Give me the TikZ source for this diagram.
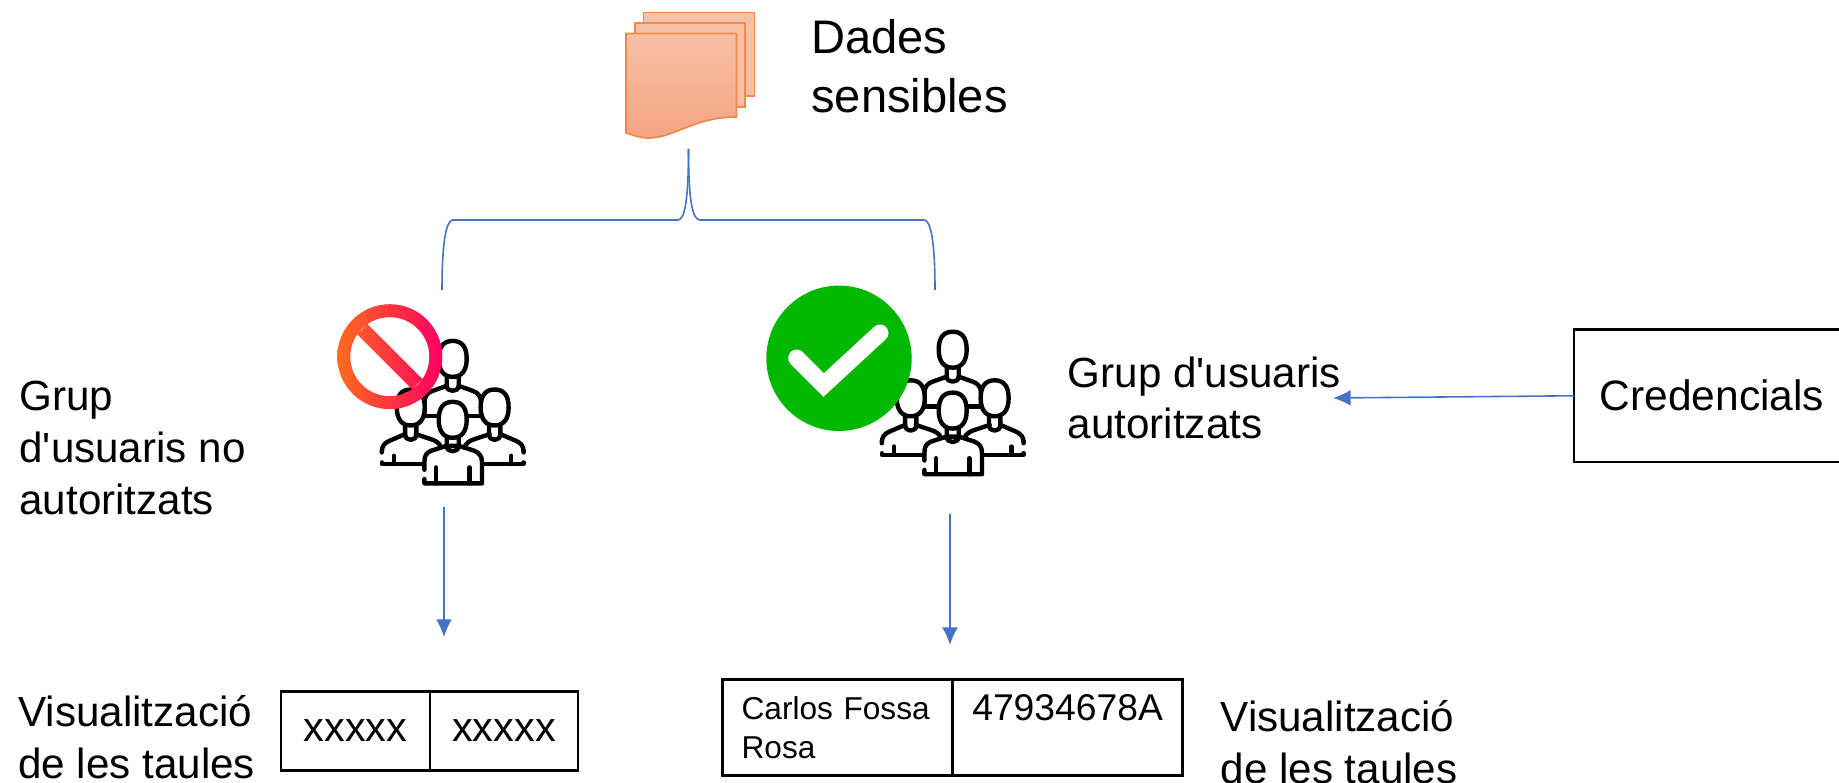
\documentclass[tikz,border=0pt]{standalone}
\usepackage{fontspec}
\setmainfont{Liberation Sans}[Ligatures=TeXOff]
\definecolor{linkblue}{HTML}{4472C4}
\definecolor{docline}{HTML}{F08A4B}
\definecolor{doctop}{HTML}{F7BFA5}
\definecolor{docbottom}{HTML}{F4A582}
\definecolor{okgreen}{HTML}{00B800}
\definecolor{noleft}{HTML}{FF6B1E}
\definecolor{noright}{HTML}{FF0062}
\newcommand{\personhead}[2]{
  \filldraw (#1-42,#2) .. controls (#1-42,#2-36) and (#1-28,#2-54) .. (#1,#2-54)
    .. controls (#1+28,#2-54) and (#1+42,#2-36) .. (#1+42,#2)
    .. controls (#1+42,#2+36) and (#1+26,#2+54) .. (#1,#2+54)
    .. controls (#1-26,#2+54) and (#1-42,#2+36) .. (#1-42,#2) -- cycle;
}
\tikzset{
  link/.style={draw=linkblue, line width=0.45pt},
  linkarrow/.style={link, -{Latex[length=5pt,width=4.5pt]}},
  sheet/.style={draw=docline, line width=0.5pt, fill=doctop},
  bigtext/.style={align=left, anchor=west, inner sep=0pt, font=\fontsize{13.4}{16.7}\selectfont},
  label/.style={align=left, anchor=west, inner sep=0pt, font=\fontsize{12}{14.7}\selectfont},
  cell/.style={draw, line width=0.8pt, inner sep=0pt, outer sep=0pt, font=\fontsize{11.8}{14}\selectfont},
  usergroup/.pic={
    \begin{scope}[x=0.0333mm, y=-0.0333mm, line width=1.25pt, line cap=round, line join=round, fill=white]
      % persona de dalt
      \draw (-85,10) -- (-85,-30) .. controls (-85,-50) and (-75,-60) .. (-60,-65) -- (-18,-80);
      \draw (85,10) -- (85,-30) .. controls (85,-50) and (75,-60) .. (60,-65) -- (18,-80);
      \draw (-85,10) -- (-45,10) (85,10) -- (45,10);
      \draw (-18,-105) -- (-18,-80) .. controls (-18,-60) and (18,-60) .. (18,-80) -- (18,-105);
      \personhead{0}{-161}
      % persones dels costats
      \foreach \side in {1,-1} {
        \begin{scope}[xscale=\side]
          \draw (-213,112) -- (-213,120) .. controls (-213,100) and (-205,92) .. (-190,85) -- (-143,65);
          \draw (-111,65) -- (-60,82) .. controls (-50,86) and (-42,92) .. (-38,98);
          \draw (-213,150) -- (-213,155) -- (-88,155) (-176,130) -- (-176,155);
          \draw (-143,42) -- (-143,65) .. controls (-143,88) and (-109,88) .. (-109,65) -- (-109,42);
          \personhead{-126}{-15}
        \end{scope}
      }
      % persona del davant
      \filldraw (-85,172) -- (-85,150) .. controls (-85,130) and (-80,122) .. (-65,115) -- (-18,100)
        -- (18,100) -- (65,115) .. controls (80,122) and (88,130) .. (88,150) -- (88,213) -- (-85,213) -- (-85,200);
      \draw (-50,165) -- (-50,213) (50,165) -- (50,213);
      \draw (-18,78) -- (-18,100) .. controls (-18,122) and (18,122) .. (18,100) -- (18,78);
      \personhead{0}{22}
    \end{scope}
  }
}
\usetikzlibrary{arrows.meta}
\begin{document}
\begin{tikzpicture}
  \useasboundingbox (0,0) rectangle (18.39,7.83);
  % fulls de dades
  \draw[sheet] (6.435,6.87) rectangle (7.545,7.705);
  \draw[sheet] (6.35,6.76) rectangle (7.45,7.60);
  \shade[top color=doctop, bottom color=docbottom] (6.26,7.495) -- (7.365,7.495) -- (7.365,6.66)
    .. controls (7.15,6.66) and (7.0,6.61) .. (6.85,6.55)
    .. controls (6.7,6.49) and (6.6,6.45) .. (6.48,6.45)
    .. controls (6.4,6.45) and (6.33,6.48) .. (6.26,6.50) -- cycle;
  \draw[draw=docline, line width=0.5pt] (6.26,7.495) -- (7.365,7.495) -- (7.365,6.66)
    .. controls (7.15,6.66) and (7.0,6.61) .. (6.85,6.55)
    .. controls (6.7,6.49) and (6.6,6.45) .. (6.48,6.45)
    .. controls (6.4,6.45) and (6.33,6.48) .. (6.26,6.50) -- cycle;
  \node[bigtext] (dades) at (8.106,7.17) {Dades\\sensibles};
  % clau cap als dos grups
  \coordinate (clautop) at (6.885,6.34);
  \coordinate (clauleft) at (4.42,4.93);
  \coordinate (clauright) at (9.35,4.93);
  \draw[link] (clautop) .. controls (6.885,5.85) and (6.85,5.63) .. (6.78,5.63) -- (4.53,5.63)
    .. controls (4.46,5.63) and (clauleft |- 0,5.4) .. (clauleft);
  \draw[link] (clautop) .. controls (6.885,5.85) and (6.92,5.63) .. (7.0,5.63) -- (9.24,5.63)
    .. controls (9.31,5.63) and (clauright |- 0,5.4) .. (clauright);
  % grup no autoritzat
  \pic at (4.527,3.705) {usergroup};
  \coordinate (nosign) at (3.898,4.263);
  \shade[left color=noleft, right color=noright, even odd rule]
    (nosign) circle (0.525) (nosign) circle (0.395)
    (nosign) +(0.326,-0.223) -- +(0.223,-0.326) -- +(-0.326,0.223) -- +(-0.223,0.326) -- cycle;
  \node[label] (grupno) at (0.188,3.35) {Grup\\d'usuaris no\\autoritzats};
  % grup autoritzat
  \pic at (9.527,3.797) {usergroup};
  \node[circle, fill=okgreen, minimum size=1.454cm, inner sep=0pt] (oksign) at (8.39,4.247) {};
  \draw[white, line width=0.17cm, line cap=round] (7.967,4.25) -- (8.237,3.98) -- (8.80,4.50);
  \node[label, font=\fontsize{12}{14.3}\selectfont] (grupok) at (10.67,3.85) {Grup d'usuaris\\autoritzats};
  % credencials
  \node[cell, font=\fontsize{12.1}{14}\selectfont, minimum width=2.76cm, minimum height=1.324cm] (credencials)
    at (17.12,3.872) {\raisebox{-1pt}{Credencials}};
  \coordinate (grupokend) at (13.33,3.85);
  \draw[linkarrow] (credencials.west) -- (grupokend);
  % taula esquerra
  \node[cell, minimum width=1.49cm, minimum height=0.783cm] (xleft) at (3.555,0.52) {\raisebox{-0.5pt}{xxxxx}};
  \node[cell, minimum width=1.48cm, minimum height=0.783cm] (xright) at (5.04,0.52) {\raisebox{-0.5pt}{xxxxx}};
  \node[label] (vistaleft) at (0.176,0.46) {Visualització\\de les taules};
  \coordinate (nostart) at (4.44,2.76);
  \coordinate (noend) at (4.44,1.46);
  \draw[linkarrow] (nostart) -- (noend);
  % taula dreta
  \node[cell, minimum width=2.302cm, minimum height=0.966cm, inner xsep=0.19cm, text width=1.922cm, align=left,
    font=\fontsize{9}{11.1}\selectfont] (nom) at (8.377,0.555) {Carlos Fossa\\Rosa};
  \node[cell, minimum width=2.297cm, minimum height=0.966cm, align=center,
    font=\fontsize{10.6}{11.1}\selectfont] (dni) at (10.676,0.555) {47934678A\\~};
  \node[label] (vistaright) at (12.2,0.41) {Visualització\\de les taules};
  \coordinate (okstart) at (9.5,2.69);
  \coordinate (okend) at (9.5,1.38);
  \draw[linkarrow] (okstart) -- (okend);
\end{tikzpicture}
\end{document}
